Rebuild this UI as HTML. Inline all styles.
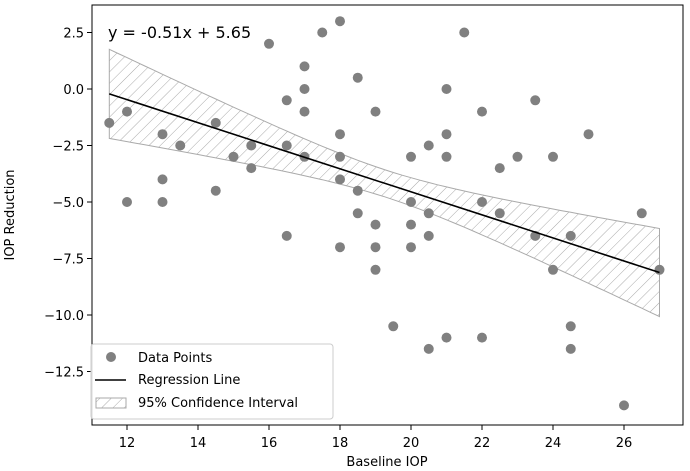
<!DOCTYPE html>
<html><head><style>body{margin:0;background:#fff}svg{display:block;font-family:"DejaVu Sans","Liberation Sans",sans-serif}</style></head>
<body>
<svg id="s" width="690" height="471" viewBox="0 0 690 471">
<defs><pattern id="h" width="8" height="8" patternUnits="userSpaceOnUse" patternTransform="rotate(45)"><line x1="0" y1="0" x2="0" y2="8" stroke="#aaa" stroke-width="1"/></pattern></defs>
<g id="g"></g>
</svg>
<script>
const X=v=>127+(v-12)*35.5, Y=v=>89-22.6*v;
let o='';
let up=[],lo=[];
for(let x=11.5;x<=27.001;x+=0.25){const m=-0.51*x+5.65,h=Math.sqrt(0.36+0.058*(x-19.3)**2);up.push(X(x).toFixed(1)+','+Y(m+h).toFixed(1));lo.unshift(X(x).toFixed(1)+','+Y(m-h).toFixed(1));}
o+=`<polygon points="${up.concat(lo).join(' ')}" fill="url(#h)" stroke="#aaa" stroke-width="1"/>`;
const P=[[11.5,-1.5],[12,-1],[12,-5],[13,-2],[13,-4],[13,-5],[13.5,-2.5],[14.5,-1.5],[14.5,-4.5],[15,-3],[15.5,-2.5],[15.5,-3.5],[16,2],[16.5,-0.5],[16.5,-2.5],[16.5,-6.5],[17,1],[17,0],[17,-1],[17,-3],[17.5,2.5],[18,3],[18,-2],[18,-3],[18,-4],[18,-7],[18.5,0.5],[18.5,-4.5],[18.5,-5.5],[19,-1],[19,-6],[19,-7],[19,-8],[19.5,-10.5],[20,-3],[20,-5],[20,-6],[20,-7],[20.5,-2.5],[20.5,-5.5],[20.5,-6.5],[20.5,-11.5],[21,0],[21,-2],[21,-3],[21,-11],[21.5,2.5],[22,-1],[22,-5],[22,-11],[22.5,-3.5],[22.5,-5.5],[23,-3],[23.5,-0.5],[23.5,-6.5],[24,-3],[24,-8],[24.5,-6.5],[24.5,-10.5],[24.5,-11.5],[25,-2],[26,-14],[26.5,-5.5],[27,-8]];
P.forEach(p=>o+=`<circle cx="${X(p[0])}" cy="${Y(p[1])}" r="5" fill="#808080"/>`);
o+=`<line x1="${X(11.5)}" y1="${Y(-0.51*11.5+5.65)}" x2="${X(27)}" y2="${Y(-0.51*27+5.65)}" stroke="#000" stroke-width="1.6"/>`;
o+=`<rect x="92" y="5" width="591" height="420" fill="none" stroke="#000" stroke-width="1"/>`;
for(let t=12;t<=26;t+=2)o+=`<line x1="${X(t)}" y1="425" x2="${X(t)}" y2="430" stroke="#000"/><text x="${X(t)}" y="447" font-size="13" text-anchor="middle">${t}</text>`;
[2.5,0,-2.5,-5,-7.5,-10,-12.5].forEach(t=>o+=`<line x1="87" y1="${Y(t)}" x2="92" y2="${Y(t)}" stroke="#000"/><text x="84" y="${Y(t)+5}" font-size="13" text-anchor="end">${t.toFixed(1).replace('-','−')}</text>`);
o+=`<text x="387" y="466" font-size="13" text-anchor="middle">Baseline IOP</text>`;
o+=`<text transform="translate(14,215) rotate(-90)" font-size="13" text-anchor="middle">IOP Reduction</text>`;
o+=`<text x="108" y="38" font-size="16">y = -0.51x + 5.65</text>`;
o+=`<rect x="91" y="344" width="242" height="75" rx="3" fill="#fff" fill-opacity="0.85" stroke="#ccc"/>`;
o+=`<circle cx="111" cy="357" r="5" fill="#808080"/><text x="138" y="362" font-size="13">Data Points</text>`;
o+=`<line x1="95" y1="380" x2="126" y2="380" stroke="#000" stroke-width="1.6"/><text x="138" y="384" font-size="13">Regression Line</text>`;
o+=`<rect x="96" y="398" width="30" height="10" fill="url(#h)" stroke="#aaa"/><text x="138" y="407" font-size="13">95% Confidence Interval</text>`;
document.getElementById('g').innerHTML=o;
</script>
</body></html>
